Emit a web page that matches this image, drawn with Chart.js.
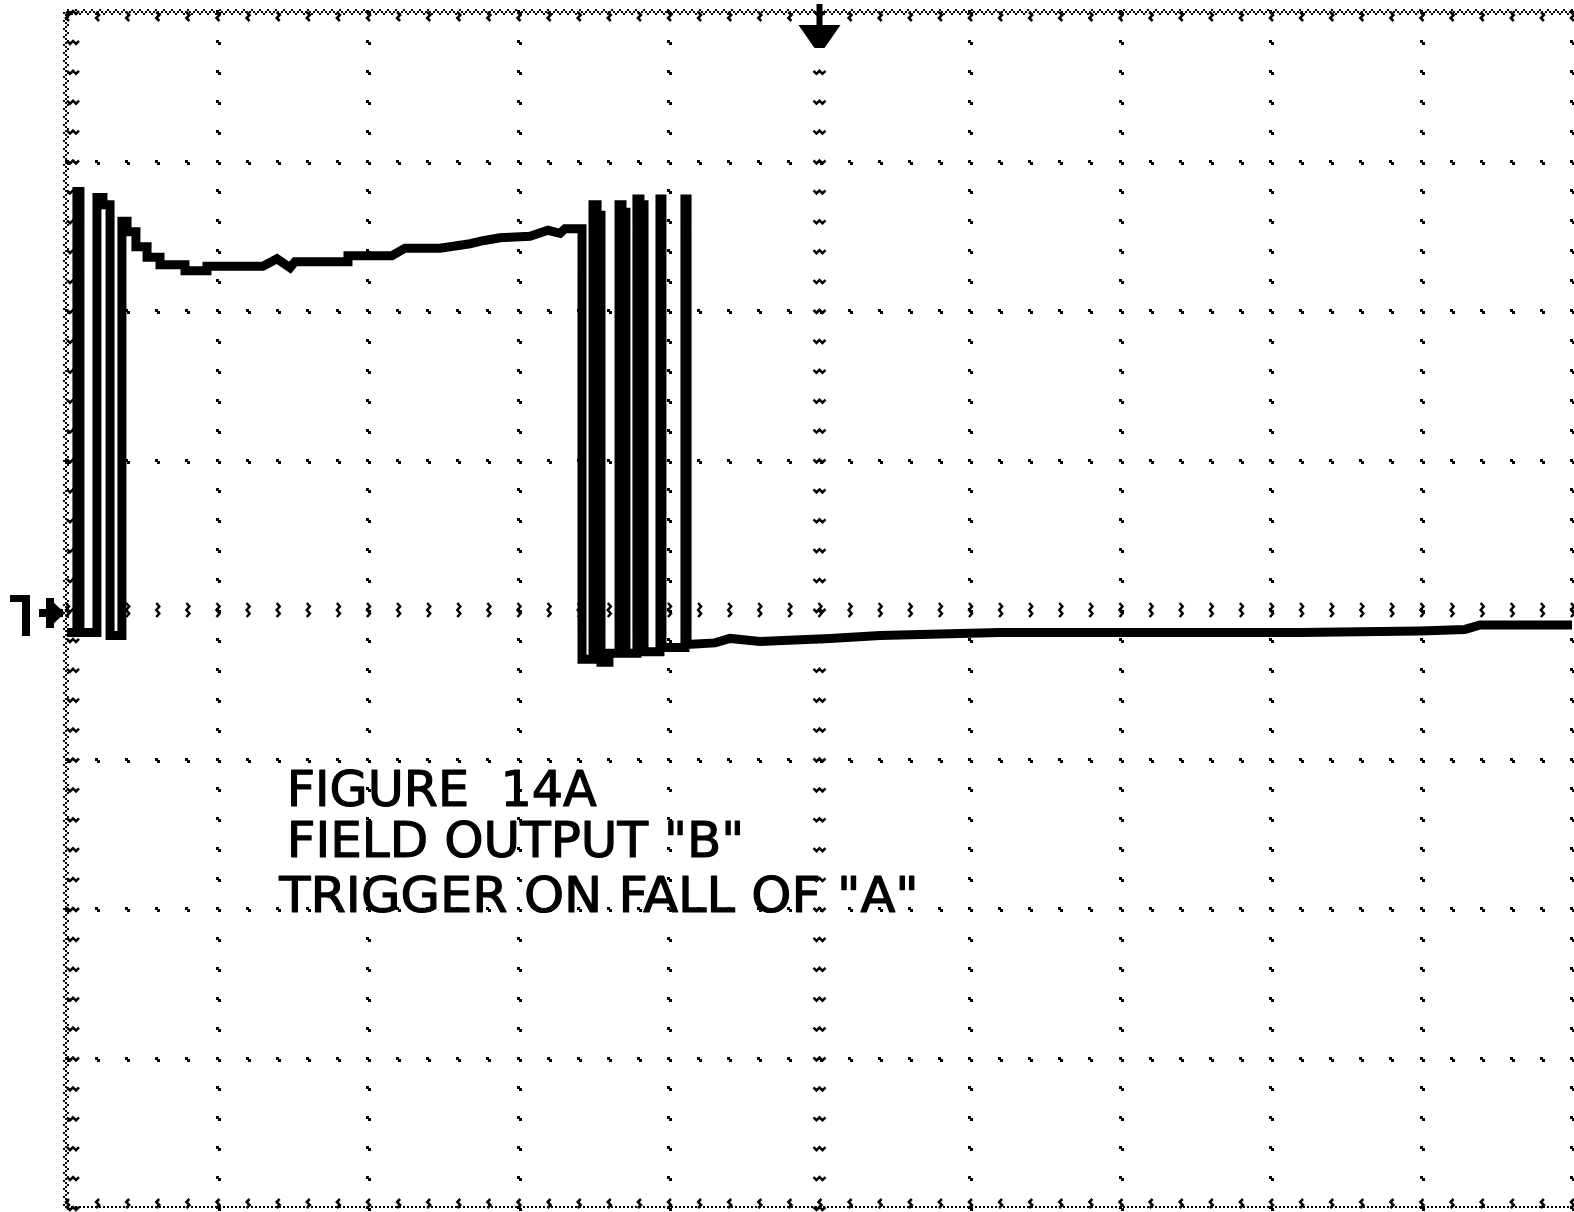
<!DOCTYPE html>
<html>
<head>
<meta charset="utf-8">
<script src="https://cdn.jsdelivr.net/npm/chart.js@4.4.0/dist/chart.umd.min.js"></script>
<style>
  html, body { margin: 0; padding: 0; background: #fff; }
  canvas { display: block; }
</style>
</head>
<body>
<canvas id="scope" width="1574" height="1212"></canvas>
<script>
// scope trace in divisions (10 across, 8 up, ground = 0)
const traceTime = [
  0, 0.066, 0.066, 0.086, 0.086, 0.199, 0.199, 0.239, 0.239, 0.286, 0.286, 0.365, 0.365, 0.399, 0.399,
  0.458, 0.458, 0.532, 0.532, 0.618, 0.618, 0.784, 0.784, 0.930, 0.930, 1.302, 1.395, 1.482, 1.515,
  1.867, 1.867, 2.159, 2.246, 2.478, 2.678, 2.764, 2.877, 3.076, 3.196, 3.276, 3.309, 3.422,
  3.422, 3.495, 3.495, 3.522, 3.522, 3.548, 3.548, 3.601, 3.601, 3.668, 3.668, 3.688, 3.688, 3.714,
  3.714, 3.787, 3.787, 3.807, 3.807, 3.834, 3.834, 3.940, 3.940, 3.953, 3.953, 4.106, 4.106, 4.120,
  4.120, 4.306, 4.405, 4.605, 5.070, 5.402, 6.199, 7.196, 8.193, 8.990, 9.289, 9.389, 10
];
const traceLevel = [
  -0.15, -0.15, 2.80, 2.80, -0.15, -0.15, 2.76, 2.76, 2.71, 2.71, -0.17, -0.17, 2.60, 2.60, 2.53,
  2.53, 2.43, 2.43, 2.36, 2.36, 2.31, 2.31, 2.27, 2.27, 2.30, 2.30, 2.35, 2.29, 2.33,
  2.33, 2.37, 2.37, 2.42, 2.42, 2.45, 2.47, 2.49, 2.50, 2.54, 2.52, 2.55, 2.55,
  -0.33, -0.33, 2.71, 2.71, 2.64, 2.64, -0.35, -0.35, -0.29, -0.29, 2.71, 2.71, 2.66, 2.66,
  -0.29, -0.29, 2.75, 2.75, 2.71, 2.71, -0.28, -0.28, 2.75, 2.75, -0.25, -0.25, 2.75, 2.75,
  -0.23, -0.22, -0.19, -0.21, -0.19, -0.17, -0.15, -0.15, -0.15, -0.14, -0.13, -0.10, -0.10
];
const divisionsX = 10;
const divisionsY = 8;
const minorPerDiv = 5;
const noteLines = ['FIGURE  14A', 'FIELD OUTPUT "B"', 'TRIGGER ON FALL OF "A"'];

const tracePoints = traceTime.map((t, i) => ({ x: t, y: traceLevel[i] }));

function dot(ctx, px, py) {
  ctx.fillRect(Math.round(px) - 2, Math.round(py) - 2, 3, 3);
  ctx.fillRect(Math.round(px), Math.round(py), 3, 3);
}
function zig(ctx, pts) {
  ctx.beginPath();
  pts.forEach((p, i) => i ? ctx.lineTo(p[0], p[1]) : ctx.moveTo(p[0], p[1]));
  ctx.stroke();
}

const graticule = {
  id: 'graticule',
  beforeDatasetsDraw(chart) {
    const { ctx, chartArea: a, scales: { x, y } } = chart;
    const xMin = [], yMin = [];
    for (let i = 0; i <= divisionsX * minorPerDiv; i++) xMin.push(x.getPixelForValue(i / minorPerDiv));
    for (let i = 0; i <= divisionsY * minorPerDiv; i++) yMin.push(y.getPixelForValue(-divisionsY / 2 + i / minorPerDiv));
    ctx.save();
    ctx.fillStyle = '#000';
    ctx.strokeStyle = '#000';
    ctx.lineWidth = 2.5;

    // dotted major lines
    for (let d = 1; d <= divisionsX; d++) {
      if (d === divisionsX / 2) continue;
      const px = x.getPixelForValue(d);
      yMin.forEach(py => dot(ctx, px, py));
    }
    for (let d = -divisionsY / 2 + 1; d < divisionsY / 2; d++) {
      if (d === 0) continue;
      const py = y.getPixelForValue(d);
      xMin.forEach(px => dot(ctx, px, py));
    }

    // centre axes with minor ticks
    const cx = x.getPixelForValue(divisionsX / 2);
    const cy = y.getPixelForValue(0);
    yMin.forEach(py => zig(ctx, [[cx - 6, py - 1], [cx - 3, py + 2], [cx, py - 1], [cx + 3, py + 2], [cx + 6, py - 1]]));
    xMin.forEach(px => zig(ctx, [[px - 1, cy - 7], [px + 2, cy - 3.5], [px - 1, cy], [px + 2, cy + 3.5], [px - 1, cy + 7]]));

    // border: checkered edge + inward ticks
    const offs = [0, 2, 4, 2];
    for (let k = 0; a.top + k * 2 <= a.bottom; k++) ctx.fillRect(a.left - 4 + offs[k % 4], a.top + k * 2, 2, 2);
    for (let k = 0; a.left + k * 2 <= a.right + 4; k++) {
      ctx.fillRect(a.left + k * 2, a.top - 3 + offs[k % 4], 2, 2);
      if (k % 2 === 0) ctx.fillRect(a.left + k * 2, a.bottom - 2, 2, 2);
    }
    yMin.forEach(py => zig(ctx, [[a.left, py - 1], [a.left + 3, py + 2], [a.left + 6, py - 1], [a.left + 9, py + 2], [a.left + 12, py - 1]]));
    xMin.forEach(px => {
      zig(ctx, [[px - 1, a.top], [px + 2, a.top + 3], [px - 1, a.top + 6], [px + 2, a.top + 9]]);
      zig(ctx, [[px - 1, a.bottom], [px + 2, a.bottom - 3], [px - 1, a.bottom - 6], [px + 2, a.bottom - 9]]);
    });

    // trigger marker at top centre
    ctx.fillRect(cx - 3, 4, 6, a.top + 14 - 4);
    ctx.beginPath();
    ctx.moveTo(cx - 21, a.top + 13);
    ctx.lineTo(cx + 21, a.top + 13);
    ctx.lineTo(cx + 5, a.top + 36);
    ctx.lineTo(cx - 5, a.top + 36);
    ctx.closePath();
    ctx.fill();

    // channel 1 ground marker
    ctx.fillRect(10, cy - 15, 18, 7);
    ctx.fillRect(22, cy - 15, 8, 41);
    ctx.fillRect(46, cy - 12, 8, 30);
    ctx.fillRect(39, cy - 1, 24, 8);
    ctx.beginPath();
    ctx.moveTo(52, cy - 9);
    ctx.lineTo(a.left - 2, cy + 3);
    ctx.lineTo(52, cy + 15);
    ctx.closePath();
    ctx.fill();
    ctx.restore();
  },
  afterDatasetsDraw(chart) {
    const { ctx, scales: { x, y } } = chart;
    const spots = [[1.46, -1.31, 2.06], [1.46, -1.65, 3.04], [1.41, -2.02, 4.25]];
    ctx.save();
    ctx.fillStyle = '#000';
    ctx.strokeStyle = '#000';
    ctx.lineWidth = 1.2;
    ctx.lineJoin = 'round';
    ctx.font = '50px "DejaVu Sans"';
    ctx.textBaseline = 'alphabetic';
    noteLines.forEach((t, i) => {
      const [vx, vy, vw] = spots[i];
      const px = x.getPixelForValue(vx), py = y.getPixelForValue(vy);
      const w = x.getPixelForValue(vx + vw) - px;
      ctx.save();
      ctx.translate(px, py);
      ctx.scale(w / ctx.measureText(t).width, 1);
      ctx.fillText(t, 0, 0);
      ctx.strokeText(t, 0, 0);
      ctx.restore();
    });
    ctx.restore();
  }
};

new Chart(document.getElementById('scope'), {
  type: 'line',
  data: {
    datasets: [{
      data: tracePoints,
      borderColor: '#000',
      borderWidth: 9,
      pointRadius: 0,
      tension: 0,
      fill: false,
      borderJoinStyle: 'miter',
      borderCapStyle: 'butt'
    }]
  },
  options: {
    responsive: false,
    animation: false,
    devicePixelRatio: 1,
    events: [],
    layout: { padding: { left: 67, right: 2, top: 12, bottom: 4 } },
    plugins: { legend: { display: false }, tooltip: { enabled: false } },
    scales: {
      x: { type: 'linear', min: 0, max: divisionsX, display: false },
      y: { type: 'linear', min: -divisionsY / 2, max: divisionsY / 2, display: false }
    }
  },
  plugins: [graticule]
});
</script>
</body>
</html>
